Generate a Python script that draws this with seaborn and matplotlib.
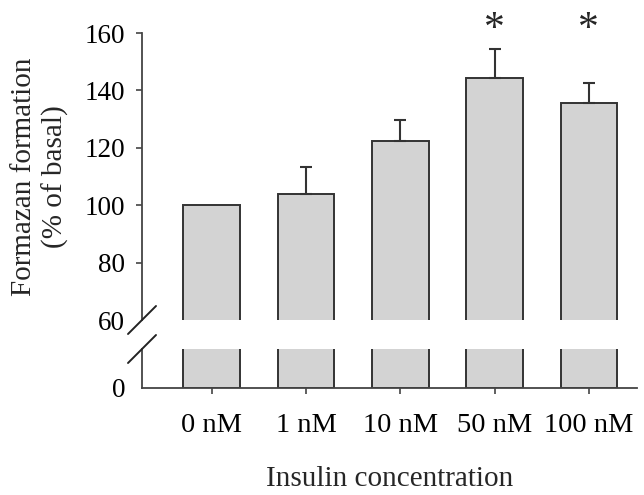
import matplotlib
matplotlib.use("Agg")
import matplotlib.pyplot as plt
import seaborn as sns
import numpy as np
from matplotlib.lines import Line2D

# data
concentrations = ["0 nM", "1 nM", "10 nM", "50 nM", "100 nM"]
formazan = [100.0, 103.8, 122.5, 144.3, 135.6]
sem_upper = [0.0, 9.4, 7.2, 10.0, 6.9]
significant = [False, False, False, True, True]

sns.set_style("ticks")
plt.rcParams["font.family"] = ["Liberation Serif", "DejaVu Serif"]
plt.rcParams["font.size"] = 19.5

bar_color = "#d3d3d3"
edge = "#333333"
spine_c = "#444444"

fig = plt.figure(figsize=(6.44, 4.95), dpi=100)
ax_top = fig.add_axes([0.2205, 0.3535, 0.7685, 0.5798])
ax_bot = fig.add_axes([0.2205, 0.2162, 0.7685, 0.0787])

for ax in (ax_top, ax_bot):
    sns.barplot(x=concentrations, y=formazan, color=bar_color, saturation=1,
                edgecolor=edge, linewidth=1.4, width=0.6, errorbar=None, ax=ax)
    ax.set_xlim(-0.74, 4.51)
    for s in ("top", "right"):
        ax.spines[s].set_visible(False)
    ax.spines["left"].set_color(spine_c)
    ax.spines["bottom"].set_color(spine_c)
    ax.spines["left"].set_linewidth(1.3)
    ax.spines["bottom"].set_linewidth(1.3)
    ax.tick_params(colors=spine_c, labelcolor="black", width=1.2, length=4,
                   labelsize=19.5)
    ax.set_xlabel("")
    ax.set_ylabel("")

# upper panel: 60-160
ax_top.set_ylim(60, 160)
ax_top.set_yticks([60, 80, 100, 120, 140, 160])
ax_top.spines["bottom"].set_visible(False)
ax_top.tick_params(axis="x", bottom=False, labelbottom=False)
ax_top.tick_params(axis="y", pad=8)
ax_top.set_yticklabels(["60", "80", "100", "120", "140", "160"])
ax_top.get_yticklines()[0].set_visible(False)

x = np.arange(len(concentrations))
has_err = np.array(sem_upper) > 0
ax_top.errorbar(x[has_err], np.array(formazan)[has_err],
                yerr=[np.zeros(has_err.sum()), np.array(sem_upper)[has_err]],
                fmt="none", ecolor=edge, elinewidth=1.5, capsize=4, capthick=1.5)
for xi, sig in enumerate(significant):
    if sig:
        ax_top.text(xi, 161.0, "*", ha="center", va="center", fontsize=30,
                    clip_on=False)

ax_top.set_ylabel("Formazan formation\n(% of basal)", fontsize=21,
                  labelpad=11, linespacing=1.25)

# lower panel: just the zero
ax_bot.set_ylim(0, 10)
ax_bot.set_yticks([0])
ax_bot.tick_params(axis="y", left=False, pad=8)
ax_bot.tick_params(axis="x", pad=14, labelsize=20.5)
ax_bot.set_xlabel("Insulin concentration", fontsize=21, labelpad=20)

# break marks
W, H = 644, 495
def slash(px, py):
    d = 14
    fig.add_artist(Line2D([(px - d) / W, (px + d) / W],
                          [1 - (py + d) / H, 1 - (py - d) / H],
                          color="#222222", lw=1.4))
slash(142, 320)
slash(142, 349)

fig.savefig("out.png", dpi=100)
